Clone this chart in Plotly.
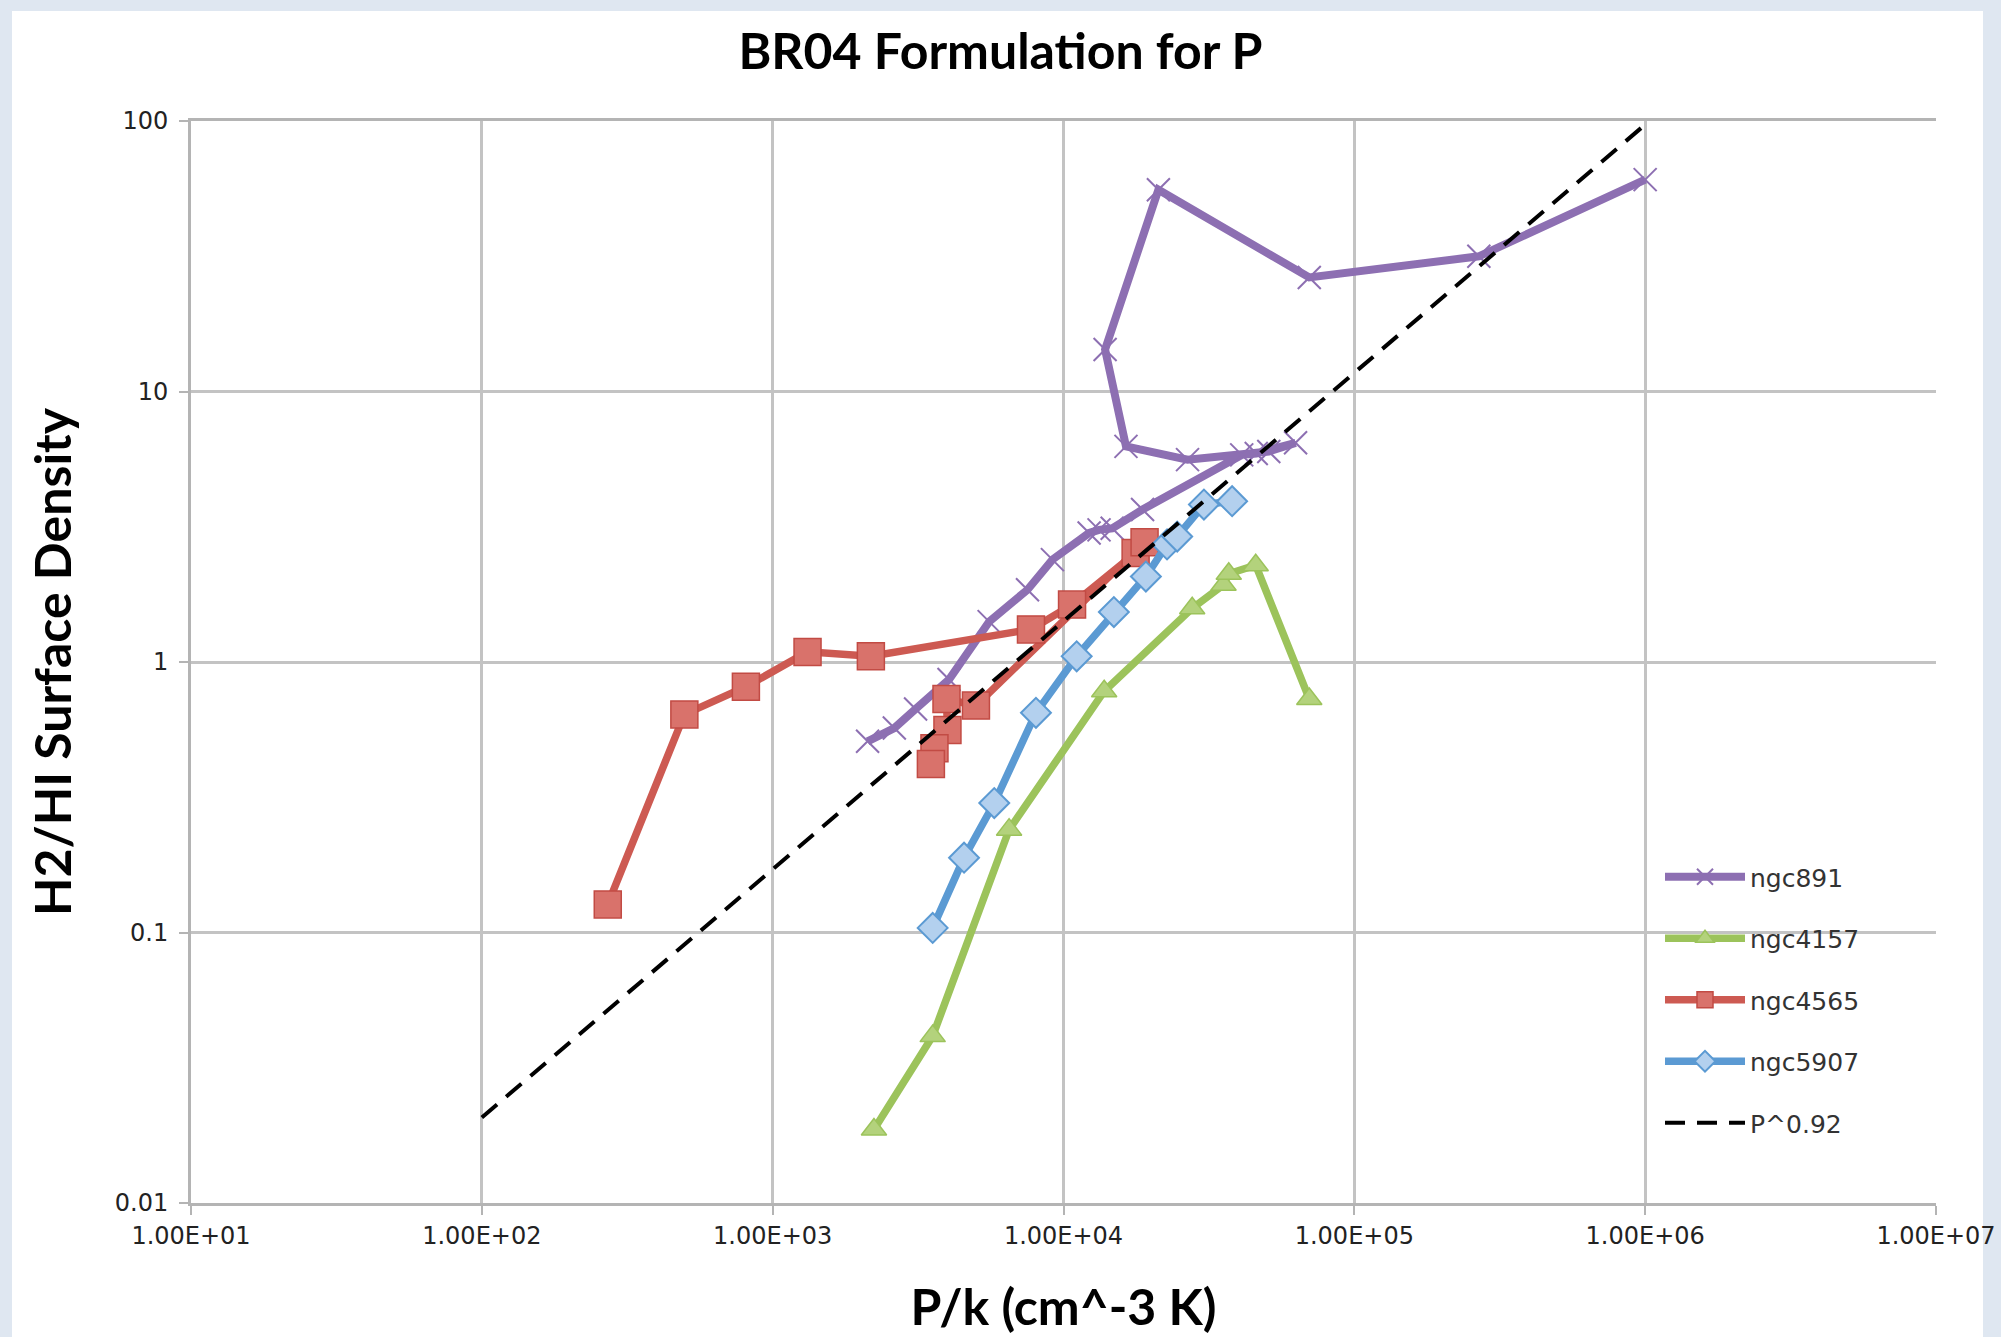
import plotly.graph_objects as go

# ---------------- data ----------------
ngc891_x = [2120, 2620, 3100, 4040, 5550, 7520, 9160, 12250, 13250, 14700, 18700,
            41000, 46000, 62800, 50800, 26700, 16400, 13900, 21200, 70000, 268000, 1000000]
ngc891_y = [0.509, 0.570, 0.670, 0.861, 1.41, 1.85, 2.39, 3.00, 3.08, 3.12, 3.66,
            5.83, 5.90, 6.46, 6.00, 5.60, 6.27, 14.3, 55.7, 26.4, 31.6, 60.7]

ngc4157_x = [2230, 3550, 6500, 13800, 27700, 35500, 37000, 45800, 70000]
ngc4157_y = [0.0187, 0.0414, 0.240, 0.78, 1.58, 1.93, 2.12, 2.28, 0.73]

ngc4565_x = [271, 497, 809, 1318, 2176, 7730, 10700, 17700, 19000, 5000, 3960, 3990, 3600, 3500]
ngc4565_y = [0.127, 0.64, 0.81, 1.09, 1.05, 1.32, 1.63, 2.53, 2.77, 0.69, 0.73, 0.56, 0.48, 0.42]

ngc5907_x = [3550, 4550, 5780, 8040, 11100, 14900, 19200, 22700, 24600, 30400, 38000]
ngc5907_y = [0.104, 0.189, 0.301, 0.649, 1.05, 1.53, 2.07, 2.72, 2.91, 3.82, 3.93]

fit_x = [100, 1000000]
fit_y = [0.0207, 97]

x_tickvals = [1e1, 1e2, 1e3, 1e4, 1e5, 1e6, 1e7]
x_ticktext = ["1.00E+01", "1.00E+02", "1.00E+03", "1.00E+04", "1.00E+05", "1.00E+06", "1.00E+07"]
y_tickvals = [0.01, 0.1, 1, 10, 100]
y_ticktext = ["0.01", "0.1", "1", "10", "100"]

title_text = "BR04 Formulation for P"
x_title = "P/k (cm^-3 K)"
y_title = "H2/HI Surface Density"

# ---------------- styles ----------------
PURPLE = "#8d6fb2"
GREEN = "#9cc35b"
RED = "#cd5a52"
BLUE = "#5b9ad3"
GRID = "#c3c3c3"
AXIS = "#b4b4b4"
TICKFONT = dict(family="DejaVu Sans", size=24, color="#222222")
TITLEFONT = dict(family="Lato", size=50, color="#000000", weight="bold")

W, H = 2001, 1337
L, R, T, B = 191, 65, 121, 134
pw, ph = W - L - R, H - T - B

fig = go.Figure()

fig.add_trace(go.Scatter(
    x=ngc891_x, y=ngc891_y, name="ngc891", legendgroup="a", mode="lines+markers",
    line=dict(color=PURPLE, width=8),
    marker=dict(symbol="x-thin", size=23, color=PURPLE, line=dict(color=PURPLE, width=2))))

fig.add_trace(go.Scatter(
    x=ngc4157_x, y=ngc4157_y, name="ngc4157", legendgroup="b", mode="lines+markers",
    line=dict(color=GREEN, width=7.5),
    marker=dict(symbol="triangle-up", size=22, color="#b3d27c", line=dict(color=GREEN, width=1.5))))

fig.add_trace(go.Scatter(
    x=ngc4565_x, y=ngc4565_y, name="ngc4565", legendgroup="c", mode="lines+markers",
    line=dict(color=RED, width=7.5),
    marker=dict(symbol="square", size=27, color="#d9726b", line=dict(color="#c24b44", width=1.5))))

fig.add_trace(go.Scatter(
    x=ngc5907_x, y=ngc5907_y, name="ngc5907", legendgroup="d", mode="lines+markers",
    line=dict(color=BLUE, width=7.5),
    marker=dict(symbol="diamond", size=23, color="#b3d0ee", line=dict(color=BLUE, width=2))))

fig.add_trace(go.Scatter(
    x=fit_x, y=fit_y, name="P^0.92", legendgroup="e", mode="lines",
    line=dict(color="#000000", width=4, dash="20px,12px")))

# light blue slide background around the white chart area
fig.add_shape(type="rect", xref="paper", yref="paper", layer="below",
              x0=(12 - L) / pw, x1=(1983 - L) / pw,
              y0=(H - B - 1400) / ph, y1=(H - B - 11) / ph,
              fillcolor="#ffffff", line=dict(width=0))

fig.update_layout(
    width=W, height=H,
    margin=dict(l=L, r=R, t=T, b=B, autoexpand=False),
    paper_bgcolor="#dfe7f1",
    plot_bgcolor="#ffffff",
    title=dict(text=title_text, x=0.5, xref="container", y=1 - 51 / H, yref="container",
               xanchor="center", yanchor="middle", font=TITLEFONT),
    xaxis=dict(type="log", range=[1, 7], tickvals=x_tickvals, ticktext=x_ticktext,
               showgrid=True, gridcolor=GRID, gridwidth=2.5,
               showline=True, linecolor=AXIS, linewidth=3, mirror=True,
               ticks="outside", ticklen=9, tickcolor=AXIS, tickwidth=2,
               tickfont=TICKFONT, automargin=False,
               title=dict(text=x_title, font=TITLEFONT, standoff=42)),
    yaxis=dict(type="log", range=[-2, 2], tickvals=y_tickvals, ticktext=y_ticktext,
               showgrid=True, gridcolor=GRID, gridwidth=2.5,
               showline=True, linecolor=AXIS, linewidth=3,
               ticks="outside", ticklen=9, tickcolor=AXIS, tickwidth=2,
               tickfont=TICKFONT, automargin=False, ticklabelstandoff=6,
               title=dict(text=y_title, font=TITLEFONT, standoff=28)),
    showlegend=True,
    legend=dict(x=(1660 - L) / pw, y=(H - B - 854) / ph, xanchor="left", yanchor="top",
                bgcolor="rgba(0,0,0,0)", font=dict(family="DejaVu Sans", size=25, color="#333333"),
                traceorder="grouped", tracegroupgap=26, itemwidth=80),
)

fig.write_html("out.html")
